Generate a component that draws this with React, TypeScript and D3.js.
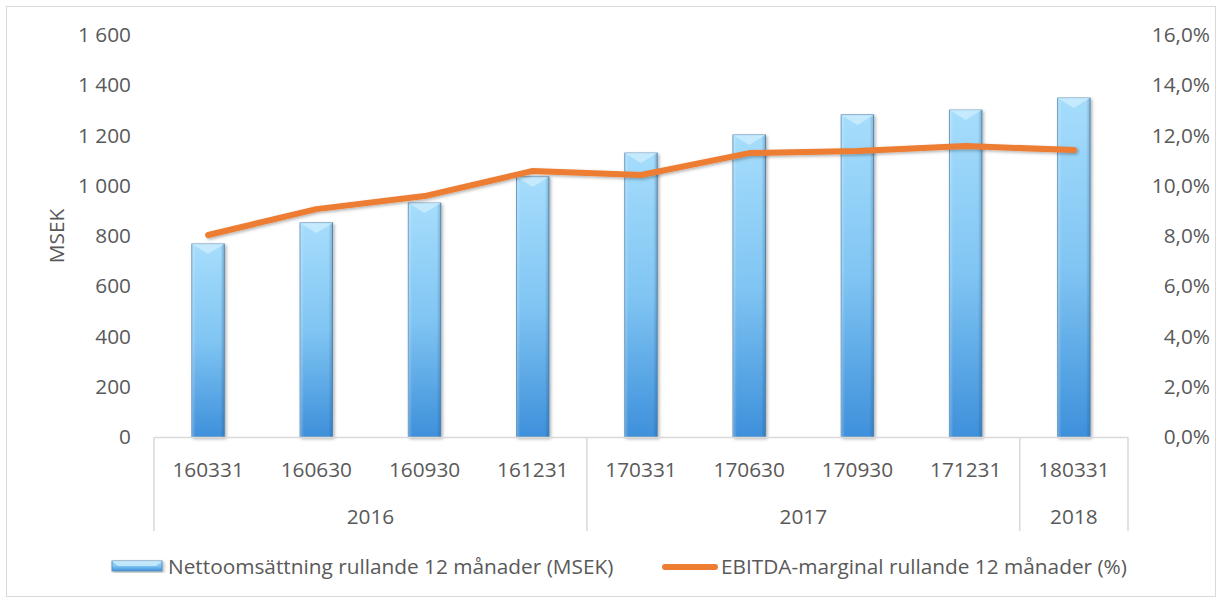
import React from "react";
import * as d3 from "d3";

const categories = ["160331", "160630", "160930", "161231", "170331", "170630", "170930", "171231", "180331"];
const categoryYears = ["2016", "2016", "2016", "2016", "2017", "2017", "2017", "2017", "2018"];
const sales = [768, 852, 931, 1035, 1130, 1202, 1282, 1301, 1349];
const ebitda = [8.04, 9.07, 9.59, 10.59, 10.43, 11.3, 11.38, 11.58, 11.42];
const leftTicks = [0, 200, 400, 600, 800, 1000, 1200, 1400, 1600];
const rightTicks = [0, 2, 4, 6, 8, 10, 12, 14, 16];
const seriesNames = ["Nettoomsättning rullande 12 månader (MSEK)", "EBITDA-marginal rullande 12 månader (%)"];

const W = 1219, H = 600;
const left = 154, right = 1128, top = 35, bottom = 437;
const FONT = "'Open Sans', Lato, sans-serif";
const TXT = "#595959";
const FS = 20.8;

export default function App() {
  const x = d3.scaleBand<string>().domain(categories).range([left, right]).padding(0);
  const yL = d3.scaleLinear().domain([0, 1600]).range([bottom, top]);
  const yR = d3.scaleLinear().domain([0, 16]).range([bottom, top]);
  const bw = x.bandwidth() * 0.3;
  const cx = (c: string) => (x(c) as number) + x.bandwidth() / 2;
  const fmtL = (v: number) => d3.format(",")(v).replace(/,/g, " ");
  const fmtR = (v: number) => v.toFixed(1).replace(".", ",") + "%";

  const line = d3.line<number>().x((_, i) => cx(categories[i])).y((d) => yR(d));

  const groups: { year: string; start: number; end: number }[] = [];
  categoryYears.forEach((yr, i) => {
    const g = groups[groups.length - 1];
    if (g && g.year === yr) g.end = i;
    else groups.push({ year: yr, start: i, end: i });
  });
  const step = x.step();
  const axisBottom = 531;

  return (
    <svg width={W} height={H} style={{ position: "absolute", left: 0, top: 0, background: "#fff" }} fontFamily={FONT}>
      <defs>
        <linearGradient id="barG" x1="0" y1="0" x2="0" y2="1">
          <stop offset="0" stopColor="#a6ddfc" />
          <stop offset="0.5" stopColor="#80c5f3" />
          <stop offset="1" stopColor="#3e90db" />
        </linearGradient>
        <linearGradient id="barSide" x1="0" y1="0" x2="1" y2="0">
          <stop offset="0" stopColor="#ffffff" stopOpacity="0.25" />
          <stop offset="0.12" stopColor="#ffffff" stopOpacity="0" />
          <stop offset="0.88" stopColor="#000000" stopOpacity="0" />
          <stop offset="1" stopColor="#1a4d80" stopOpacity="0.25" />
        </linearGradient>
        <filter id="sh" x="-20%" y="-20%" width="140%" height="140%">
          <feDropShadow dx="1.5" dy="1.5" stdDeviation="1.5" floodColor="#000" floodOpacity="0.3" />
        </filter>
      </defs>
      <rect x={6.5} y={6.5} width={1209} height={590} fill="#fff" stroke="#d9d9d9" />

      {sales.map((v, i) => {
        const c = categories[i];
        const bx = cx(c) - bw / 2;
        const by = yL(v);
        const bh = bottom - by;
        return (
          <g key={c} filter="url(#sh)">
            <rect x={bx} y={by} width={bw} height={bh} fill="url(#barG)" stroke="#5b8db8" strokeWidth={1} />
            <rect x={bx} y={by} width={bw} height={bh} fill="url(#barSide)" />
            <polygon points={`${bx},${by} ${bx + bw},${by} ${bx + bw / 2},${by + 10}`} fill="#cdeefe" opacity={0.8} />
          </g>
        );
      })}

      <path d={line(ebitda) || ""} fill="none" stroke="#ED7D31" strokeWidth={6} strokeLinecap="round" strokeLinejoin="round" filter="url(#sh)" />

      <line x1={left} x2={right} y1={bottom + 0.5} y2={bottom + 0.5} stroke="#d9d9d9" strokeWidth={1.5} />
      {groups.map((g, gi) => (
        <line key={"d" + gi} x1={left + g.start * step} x2={left + g.start * step} y1={bottom} y2={axisBottom} stroke="#d9d9d9" strokeWidth={1.5} />
      ))}
      <line x1={right} x2={right} y1={bottom} y2={axisBottom} stroke="#d9d9d9" strokeWidth={1.5} />
      {categories.map((c) => (
        <text key={c} x={cx(c)} y={477} textAnchor="middle" fontSize={FS} fill={TXT}>{c}</text>
      ))}
      {groups.map((g, gi) => (
        <text key={"g" + gi} x={left + ((g.start + g.end + 1) / 2) * step} y={524} textAnchor="middle" fontSize={FS} fill={TXT}>{g.year}</text>
      ))}

      {leftTicks.map((t) => (
        <text key={"l" + t} x={131} y={yL(t) + 7} textAnchor="end" fontSize={FS} fill={TXT}>{fmtL(t)}</text>
      ))}
      <text transform={`translate(64,${(top + bottom) / 2}) rotate(-90)`} textAnchor="middle" fontSize={FS} fill={TXT}>MSEK</text>

      {rightTicks.map((t) => (
        <text key={"r" + t} x={1210} y={yR(t) + 7} textAnchor="end" fontSize={FS} fill={TXT}>{fmtR(t)}</text>
      ))}

      <g filter="url(#sh)">
        <rect x={112} y={561} width={50} height={10} fill="url(#barG)" stroke="#5b8db8" />
        <polygon points={`112,561 162,561 156,566 118,566`} fill="#cdeefe" opacity={0.8} />
      </g>
      <text x={168} y={574} fontSize={FS} fill={TXT}>{seriesNames[0]}</text>
      <line x1={665} x2={715} y1={567} y2={567} stroke="#ED7D31" strokeWidth={6} strokeLinecap="round" />
      <text x={721} y={574} fontSize={FS} fill={TXT}>{seriesNames[1]}</text>
    </svg>
  );
}
